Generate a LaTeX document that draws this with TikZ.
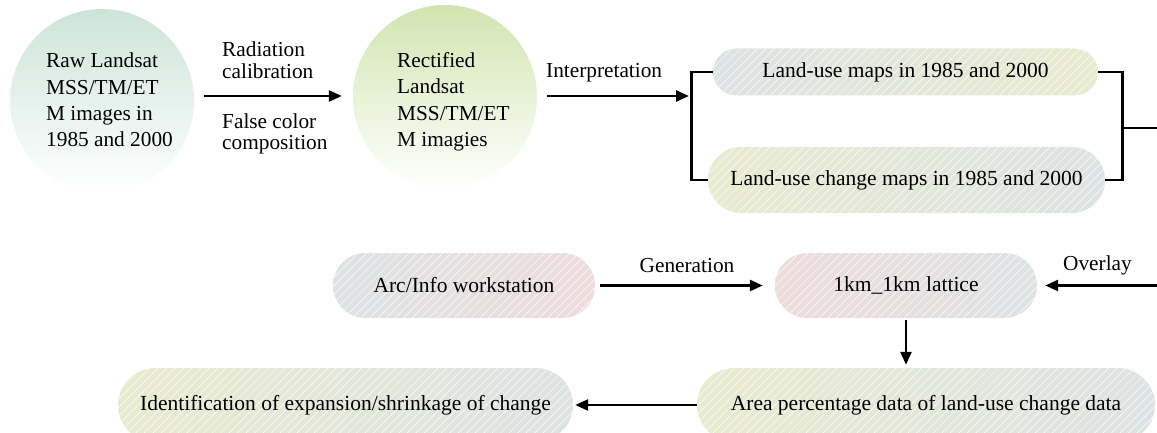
\documentclass[tikz,border=0pt]{standalone}
\usepackage{fontspec}
\setmainfont{Liberation Serif}
\usetikzlibrary{shapes.misc,arrows.meta,patterns.meta}
\definecolor{tealtop}{HTML}{CDE4DA}
\definecolor{greentop}{HTML}{D1E5B0}
\definecolor{pgrey}{HTML}{DDE2E3}
\definecolor{pyellow}{HTML}{E8EBCF}
\definecolor{ppink}{HTML}{EDDCDC}
\begin{document}
\begin{tikzpicture}[x=1pt,y=-1pt,
  every node/.style={text=black},
  circ/.style={circle, draw=none, minimum size=184pt, inner sep=0pt, bottom color=white, middle color=#1!60!white, top color=#1},
  ctxt/.style={align=left, inner sep=0pt, font=\fontsize{21.3}{26.4}\selectfont},
  pill/.style={rounded rectangle, draw=none, inner sep=0pt, font=\fontsize{21.5}{26}\selectfont,
    postaction={pattern={Lines[angle=45,distance=6pt,line width=0.5pt]}, pattern color=white, fill opacity=0.28}},
  lbl/.style={align=left, inner sep=0pt, font=\fontsize{21.3}{21.5}\selectfont},
  arr/.style={line width=2.5pt, -{Triangle[length=13pt,width=11pt]}},
  brk/.style={line width=2.7pt}
]
\useasboundingbox (0,0) rectangle (1157,433);
\clip (0,0) rectangle (1157,433);

% circles
\node[circ=tealtop] (raw) at (102,101) {};
\node[ctxt, anchor=west] (rawt) at (46,100) {Raw Landsat\\MSS/TM/ET\\M images in\\1985 and 2000};
\node[circ=greentop] (rect) at (445,97) {};
\node[ctxt, anchor=west] (rectt) at (397,102) {Rectified\\Landsat\\MSS/TM/ET\\M imagies};

% labels top row
\node[lbl, anchor=west] (radl) at (222,60) {Radiation\\calibration};
\node[lbl, anchor=west] (fcl) at (222,134) {False color\\composition};
\node[lbl, anchor=base west] (intl) at (546,78) {Interpretation};

% pills
\node[pill, minimum width=385pt, minimum height=47pt, left color=pgrey, right color=pyellow] (lum) at (905.5,72) {Land-use maps in 1985 and 2000};
\node[pill, minimum width=397pt, minimum height=66pt, left color=pyellow, right color=pgrey] (lucm) at (906.5,180) {Land-use change maps in 1985 and 2000};
\node[pill, minimum width=262pt, minimum height=65pt, left color=pgrey, right color=ppink] (arc) at (464,285.5) {Arc/Info workstation};
\node[pill, minimum width=262pt, minimum height=65pt, left color=ppink, right color=pgrey] (lat) at (906,285.5) {1km\_1km lattice};
\node[pill, minimum width=458pt, minimum height=74pt, left color=pyellow, right color=pgrey] (area) at (926,405) {Area percentage data of land-use change data};
\node[pill, minimum width=455pt, minimum height=74pt, left color=pyellow, right color=pgrey] (ident) at (345.5,405) {Identification of expansion/shrinkage of change};

\node[lbl, anchor=base] (genl) at (687,272) {Generation};
\node[lbl, anchor=base west] (ovl) at (1063,270) {Overlay};

% coordinates
\coordinate (brin) at (689,96);
\coordinate (brR) at (1122,128);
\coordinate (edgeR) at (1162,128);
\coordinate (edge2) at (1162,285.5);

% connectors
\draw[arr] ([xshift=10pt,yshift=5pt]raw.east) -- ([xshift=-11pt,yshift=1pt]rect.west);
\draw[arr] ([xshift=10pt,yshift=1pt]rect.east) -- (brin);
\draw[brk] (lum.west) -- ++(-21,0) |- (lucm.west);
\draw[brk] (lum.east) -- ++(24,0) |- (lucm.east);
\draw[brk] (brR) -- (edgeR);
\draw[arr] (edge2) -- ([xshift=8pt]lat.east);
\draw[arr] ([xshift=5pt]arc.east) -- ([xshift=-12pt]lat.west);
\draw[arr] ([yshift=-2pt]lat.south) -- ([yshift=3pt]lat.south |- area.north);
\draw[arr] (area.west) -- ([xshift=2pt]ident.east);
\end{tikzpicture}
\end{document}
